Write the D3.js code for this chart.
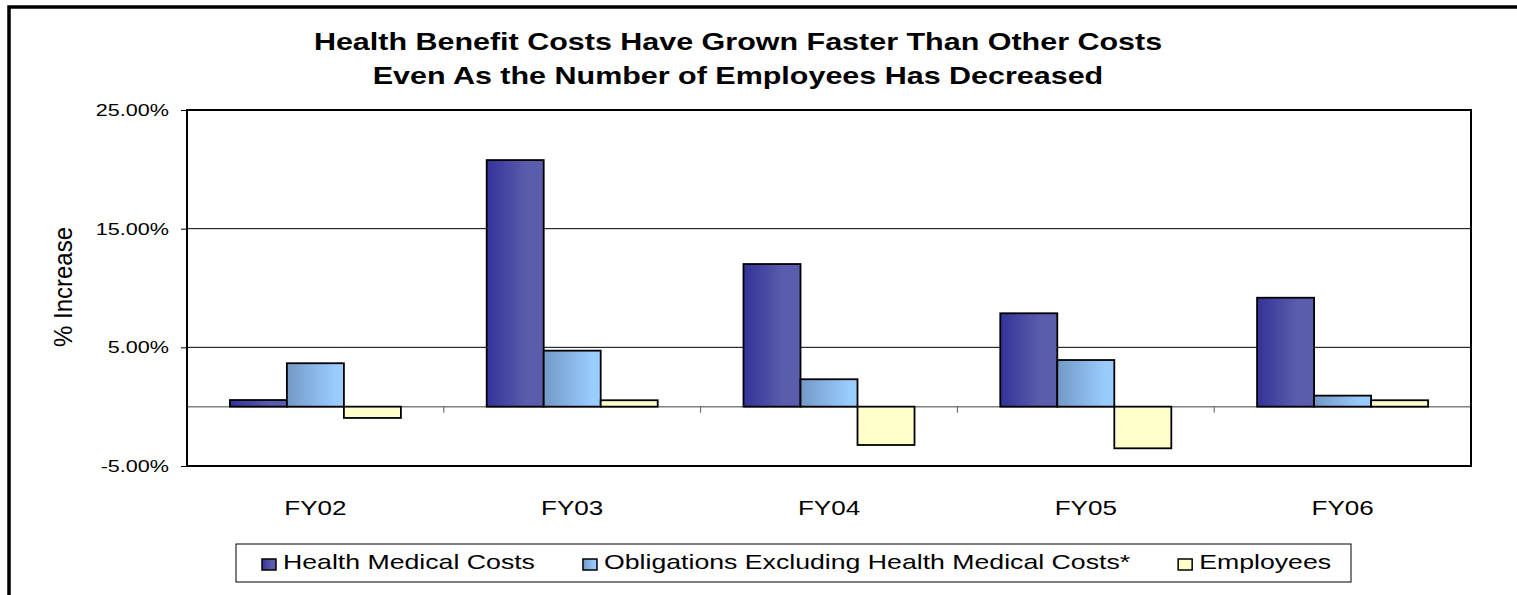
<!DOCTYPE html>
<html>
<head>
<meta charset="utf-8">
<title>Health Benefit Costs</title>
<script src="https://cdn.jsdelivr.net/npm/d3@7"></script>
<style>
  body { margin: 0; background: #fff; }
  text { font-family: "Liberation Sans", Arial, sans-serif; fill: #000; }
</style>
</head>
<body>
<script>
// data (% change year over year)
var years = ["FY02", "FY03", "FY04", "FY05", "FY06"];
var seriesNames = ["Health Medical Costs", "Obligations Excluding Health Medical Costs*", "Employees"];
var healthMedical = [0.56, 20.78, 12.02, 7.87, 9.18];
var obligations = [3.66, 4.72, 2.31, 3.93, 0.93];
var employees = [-0.95, 0.54, -3.23, -3.51, 0.54];
var yTicks = [-5, 5, 15, 25];

var W = 1517, H = 595;
var plotL = 187, plotR = 1471, plotT = 110, plotB = 466;
var SX = 1.27; // the original picture is stretched sideways, so text is too

var svg = d3.select("body").append("svg").attr("width", W).attr("height", H);

// put a text at (x, y) and stretch it sideways around that point
function wideText(parent, x, y, str, size, anchor) {
    return parent.append("text")
        .attr("transform", "translate(" + x + "," + y + ") scale(" + SX + ",1)")
        .attr("text-anchor", anchor || "start")
        .style("font-size", size + "px")
        .text(str);
}

// gradients like the old excel fills
var defs = svg.append("defs");
function grad(id, c1, c2, stopAt) {
    var g = defs.append("linearGradient").attr("id", id)
        .attr("x1", "0%").attr("x2", "100%").attr("y1", "0%").attr("y2", "0%");
    g.append("stop").attr("offset", "0%").attr("stop-color", c1);
    g.append("stop").attr("offset", stopAt).attr("stop-color", c2);
    g.append("stop").attr("offset", "100%").attr("stop-color", c2);
}
grad("g0", "#333399", "#5a5dab", "70%");
grad("g1", "#7399c6", "#99ccff", "85%");
grad("g2", "#ffffcc", "#ffffcc", "100%");
var fills = ["url(#g0)", "url(#g1)", "url(#g2)"];

// outer frame (runs off the right and bottom)
svg.append("rect").attr("x", 9).attr("y", 7).attr("width", W + 20).attr("height", H + 20)
   .attr("fill", "none").attr("stroke", "#000").attr("stroke-width", 3.5);

// title
wideText(svg, 738, 50, "Health Benefit Costs Have Grown Faster Than Other Costs", 24, "middle")
    .style("font-weight", "bold");
wideText(svg, 738, 84, "Even As the Number of Employees Has Decreased", 24, "middle")
    .style("font-weight", "bold");

var x = d3.scaleBand().domain(years).range([plotL, plotR]).paddingInner(0.334).paddingOuter(0.167);
var xs = d3.scaleBand().domain([0, 1, 2]).range([0, x.bandwidth()]).padding(0);
var y = d3.scaleLinear().domain([-5, 25]).range([plotB, plotT]);

// gridlines
svg.append("g").selectAll("line").data(yTicks.filter(function(d) { return d > -5; }))
   .enter().append("line")
   .attr("x1", plotL).attr("x2", plotR)
   .attr("y1", function(d) { return y(d); }).attr("y2", function(d) { return y(d); })
   .attr("stroke", "#000").attr("stroke-width", 1);

// y axis
var yAxis = svg.append("g").attr("transform", "translate(" + plotL + ",0)")
    .call(d3.axisLeft(y).tickValues(yTicks).tickSize(6).tickPadding(12)
          .tickFormat(function(d) { return d.toFixed(2) + "%"; }));
yAxis.select(".domain").remove();
yAxis.selectAll("line").attr("stroke", "#000");
yAxis.selectAll("text").style("font-size", "17px").attr("fill", "#000")
     .attr("transform", "translate(-18,0) scale(" + SX + ",1) translate(18,0)");

// zero line
svg.append("line").attr("x1", plotL).attr("x2", plotR).attr("y1", y(0)).attr("y2", y(0))
   .attr("stroke", "#808080").attr("stroke-width", 1.5);

// category ticks on the zero line
var step = x.step();
var tickX = d3.range(1, years.length).map(function(i) { return plotL + i * step; });
svg.append("g").selectAll("line").data(tickX).enter().append("line")
   .attr("x1", function(d) { return d; }).attr("x2", function(d) { return d; })
   .attr("y1", y(0)).attr("y2", y(0) + 6).attr("stroke", "#555").attr("stroke-width", 1);

// bars
var rows = years.map(function(yr, i) {
    return { year: yr, vals: [healthMedical[i], obligations[i], employees[i]] };
});
var groups = svg.append("g").selectAll("g").data(rows).enter().append("g")
    .attr("transform", function(d) { return "translate(" + x(d.year) + ",0)"; });
groups.selectAll("rect").data(function(d) { return d.vals; }).enter().append("rect")
    .attr("x", function(d, j) { return xs(j); })
    .attr("width", xs.bandwidth())
    .attr("y", function(d) { return y(Math.max(0, d)); })
    .attr("height", function(d) { return Math.abs(y(d) - y(0)); })
    .attr("fill", function(d, j) { return fills[j]; })
    .attr("stroke", "#000").attr("stroke-width", 1.8);

// plot border
svg.append("rect").attr("x", plotL).attr("y", plotT).attr("width", plotR - plotL).attr("height", plotB - plotT)
   .attr("fill", "none").attr("stroke", "#000").attr("stroke-width", 2);

// category labels
years.forEach(function(yr) {
    wideText(svg, x(yr) + x.bandwidth() / 2, 515, yr, 20.5, "middle");
});

// y label
svg.append("text")
   .attr("transform", "translate(71.5,287) scale(" + SX + ",1) rotate(-90) scale(1.2,1)")
   .attr("text-anchor", "middle").style("font-size", "20px")
   .text("% Increase");

// legend
var lg = svg.append("g");
lg.append("rect").attr("x", 236).attr("y", 544).attr("width", 1115).attr("height", 38)
  .attr("fill", "#fff").attr("stroke", "#000").attr("stroke-width", 1);
var lx = 262;
seriesNames.forEach(function(n, i) {
    lg.append("rect").attr("x", lx).attr("y", 559).attr("width", 14).attr("height", 11)
      .attr("fill", fills[i]).attr("stroke", "#000").attr("stroke-width", 1.5);
    var t = wideText(lg, lx + 21, 569, n, 21, "start");
    lx += 21 + t.node().getComputedTextLength() * SX + 48;
});
</script>
</body>
</html>
